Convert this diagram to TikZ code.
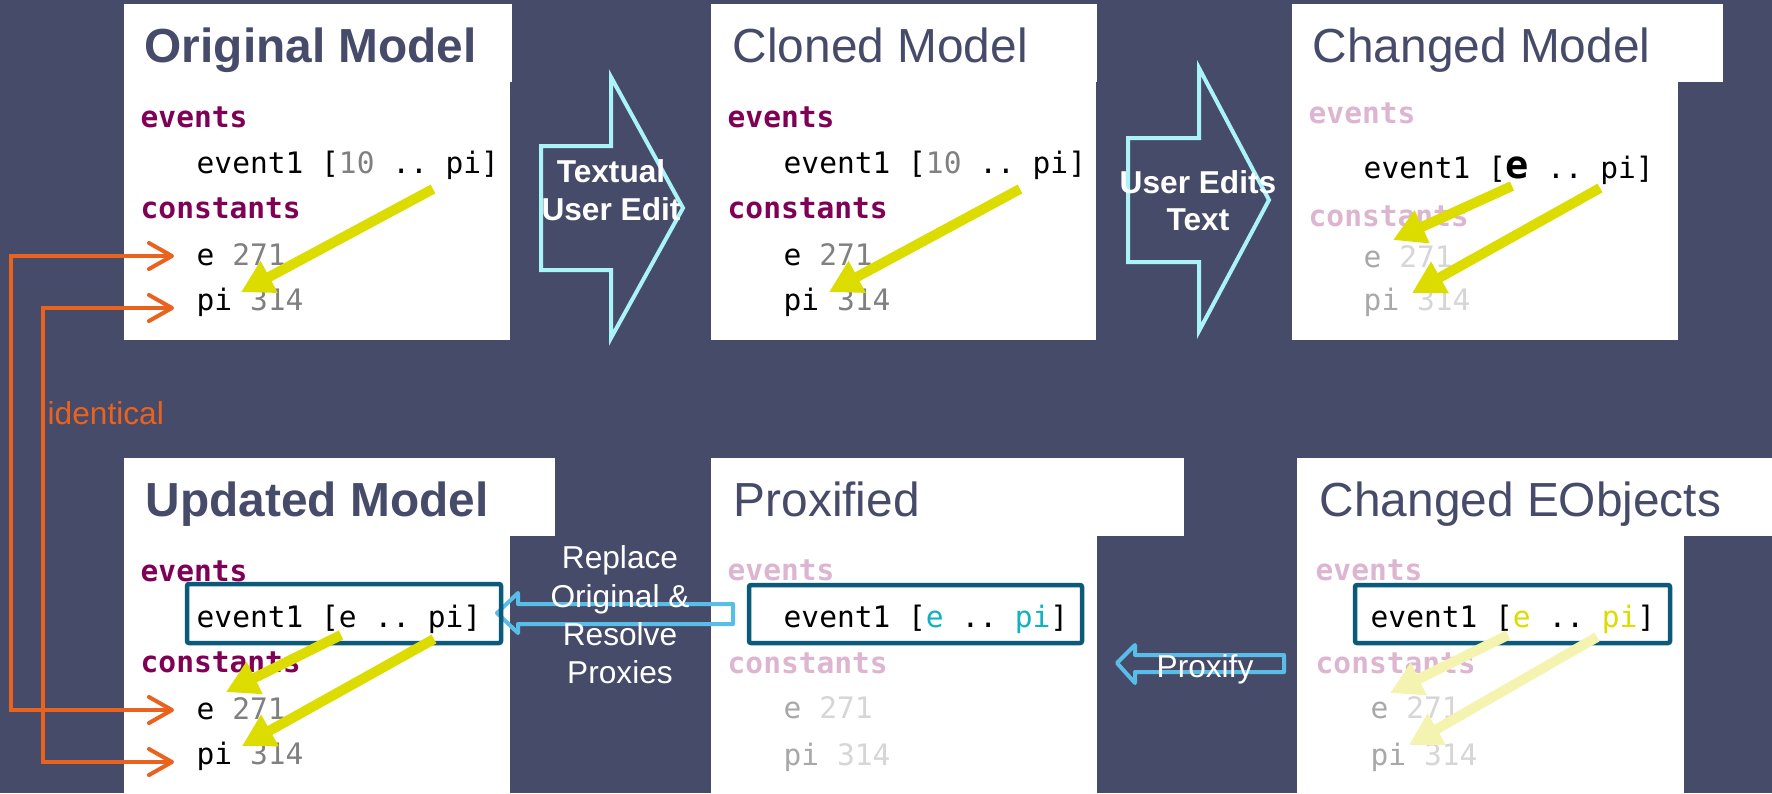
\documentclass[tikz,border=0pt]{standalone}
\usepackage{fontspec}
\setmainfont{Liberation Sans}
\setmonofont{DejaVu Sans Mono}
\usetikzlibrary{arrows.meta}
\definecolor{slate}{RGB}{71,75,106}
\definecolor{kw}{RGB}{127,0,85}
\definecolor{kwfade}{RGB}{221,181,209}
\definecolor{numgray}{RGB}{128,128,128}
\definecolor{idfade}{RGB}{168,168,168}
\definecolor{numfade}{RGB}{214,214,214}
\definecolor{editcyan}{RGB}{170,244,248}
\definecolor{proxyblue}{RGB}{88,190,232}
\definecolor{proxyteal}{RGB}{16,178,192}
\definecolor{refyellow}{RGB}{220,220,0}
\definecolor{ghostyellow}{RGB}{244,244,176}
\definecolor{idorange}{RGB}{233,98,30}
\definecolor{hlframe}{RGB}{12,90,122}

\begin{document}
\begin{tikzpicture}[x=0.01cm, y=-0.01cm,
		head/.style={anchor=base west, inner sep=0, text=slate, font=\fontsize{13.6}{16}\selectfont},
		code/.style={anchor=base west, inner sep=0, font=\ttfamily\fontsize{8.4}{10}\selectfont},
		kword/.style={code, text=kw, font=\ttfamily\bfseries\fontsize{8.4}{10}\selectfont},
		gone/.style={code, text=idfade},
		hl/.style={draw=hlframe, line width=0.045cm, rounded corners=0.02cm},
		edit/.style={draw=editcyan, line width=0.04cm},
		proxy/.style={draw=proxyblue, line width=0.04cm, line join=round},
		note/.style={inner sep=0, text=white, align=center, font=\fontsize{9}{10.9}\selectfont},
		same/.style={draw=idorange, line width=0.04cm, >={Straight Barb[round,length=0.23cm,width=0.26cm]}, <->},
		ref/.style={draw=refyellow, line width=0.1cm, -{Triangle[length=0.32cm,width=0.34cm]}},
		refghost/.style={ref, draw=ghostyellow}]
		\useasboundingbox (0,0) rectangle (1772,793);
		\fill[slate] (0,0) rectangle (1772,793);
		\foreach \xa/\ya/\xb/\yb in {124/4/512/82, 124/82/510/340, 711/4/1097/82, 711/82/1096/340, 1292/4/1723/82, 1292/82/1678/340, 124/458/555/536, 124/536/510/793, 711/458/1184/536, 711/536/1097/793, 1297/458/1772/536, 1297/536/1684/793}
			\fill[white] (\xa,\ya) rectangle (\xb,\yb);

		\draw[edit] (541,146) -- (611,146) -- (611,77) -- (683,208) -- (611,338) -- (611,270) -- (541,270) -- cycle;
		\draw[edit] (1128,138) -- (1199,138) -- (1199,68) -- (1269,200) -- (1199,331) -- (1199,262) -- (1128,262) -- cycle;
		\draw[proxy] (497,613) -- (518,593) -- (518,604) -- (733,604) -- (733,624) -- (518,624) -- (518,633) -- cycle;
		\draw[proxy] (1117,663) -- (1135,645) -- (1135,655) -- (1284,655) -- (1284,672) -- (1135,672) -- (1135,683) -- cycle;
		\draw[hl] (187,584) rectangle (501,643);
		\draw[hl] (749,585) rectangle (1082,643);
		\draw[hl] (1355,585) rectangle (1670,643);

		\node[head, font=\fontsize{13.6}{16}\selectfont\bfseries] (o-title) at (144,62) {Original Model};
		\node[kword] (o-events) at (140,127) {events};
		\node[code] (o-ev) at (196,173) {event1 [\textcolor{numgray}{10} .. pi]};
		\node[kword] (o-const) at (140,218) {constants};
		\node[code] (o-e) at (196,265) {e \textcolor{numgray}{271}};
		\node[code] (o-pi) at (196,310) {pi \textcolor{numgray}{314}};

		\node[head] (c-title) at (732,62) {Cloned Model};
		\node[kword] (c-events) at (727,127) {events};
		\node[code] (c-ev) at (783,173) {event1 [\textcolor{numgray}{10} .. pi]};
		\node[kword] (c-const) at (727,218) {constants};
		\node[code] (c-e) at (783,265) {e \textcolor{numgray}{271}};
		\node[code] (c-pi) at (783,310) {pi \textcolor{numgray}{314}};

		\node[head] (ch-title) at (1312,62) {Changed Model};
		\node[kword, text=kwfade] (ch-events) at (1308,123) {events};
		\node[code] (ch-ev) at (1363,178) {event1 [{\fontsize{11}{11}\selectfont\bfseries e} .. pi]};
		\node[kword, text=kwfade] (ch-const) at (1308,226) {constants};
		\node[gone] (ch-e) at (1363,267) {e \textcolor{numfade}{271}};
		\node[gone] (ch-pi) at (1363,310) {pi \textcolor{numfade}{314}};

		\node[head, font=\fontsize{13.6}{16}\selectfont\bfseries] (u-title) at (145,516) {Updated Model};
		\node[kword] (u-events) at (140,581) {events};
		\node[code] (u-ev) at (196,627) {event1 [e .. pi]};
		\node[kword] (u-const) at (140,672) {constants};
		\node[code] (u-e) at (196,719) {e \textcolor{numgray}{271}};
		\node[code] (u-pi) at (196,764) {pi \textcolor{numgray}{314}};

		\node[head] (p-title) at (733,516) {Proxified};
		\node[kword, text=kwfade] (p-events) at (727,580) {events};
		\node[code] (p-ev) at (783,627) {event1 [\textcolor{proxyteal}{e} .. \textcolor{proxyteal}{pi}]};
		\node[kword, text=kwfade] (p-const) at (727,673) {constants};
		\node[gone] (p-e) at (783,718) {e \textcolor{numfade}{271}};
		\node[gone] (p-pi) at (783,765) {pi \textcolor{numfade}{314}};

		\node[head] (eo-title) at (1319,516) {Changed EObjects};
		\node[kword, text=kwfade] (eo-events) at (1315,580) {events};
		\node[code] (eo-ev) at (1370,627) {event1 [\textcolor{refyellow}{e} .. \textcolor{refyellow}{pi}]};
		\node[kword, text=kwfade] (eo-const) at (1315,673) {constants};
		\node[gone] (eo-e) at (1370,718) {e \textcolor{numfade}{271}};
		\node[gone] (eo-pi) at (1370,765) {pi \textcolor{numfade}{314}};

		\node[note, font=\fontsize{9}{10.8}\selectfont\bfseries] (edit1) at (611,190) {Textual\\User Edit};
		\node[note, font=\fontsize{9}{10.6}\selectfont\bfseries] (edit2) at (1198,201) {User Edits\\Text};
		\node[note] (replace) at (620,615) {Replace\\Original \&\\Resolve\\Proxies};
		\node[note] (proxify) at (1205,669) {Proxify};

		\draw[same] ([shift={(-22,-9)}]o-e.base west) -- ++(-163,0) |- ([shift={(-22,-9)}]u-e.base west);
		\draw[same] ([shift={(-22,-2)}]o-pi.base west) -- ++(-131,0) |- ([shift={(-22,-2)}]u-pi.base west);
		\node[anchor=base west, inner sep=0, text=idorange, font=\fontsize{9}{11}\selectfont] (same-label) at (47,424) {identical};

		\draw[ref] ([shift={(237,16)}]o-ev.base west) -- ([shift={(45,-18)}]o-pi.base west);
		\draw[ref] ([shift={(237,16)}]c-ev.base west) -- ([shift={(46,-18)}]c-pi.base west);
		\draw[ref] ([shift={(149,8)}]ch-ev.base west) -- ([shift={(30,-27)}]ch-e.base west);
		\draw[ref] ([shift={(237,10)}]ch-ev.base west) -- ([shift={(49,-17)}]ch-pi.base west);
		\draw[ref] ([shift={(145,8)}]u-ev.base west) -- ([shift={(30,-27)}]u-e.base west);
		\draw[ref] ([shift={(238,12)}]u-ev.base west) -- ([shift={(46,-18)}]u-pi.base west);
		\draw[refghost] ([shift={(138,8)}]eo-ev.base west) -- ([shift={(20,-25)}]eo-e.base west);
		\draw[refghost] ([shift={(227,10)}]eo-ev.base west) -- ([shift={(39,-20)}]eo-pi.base west);
	\end{tikzpicture}
\end{document}
